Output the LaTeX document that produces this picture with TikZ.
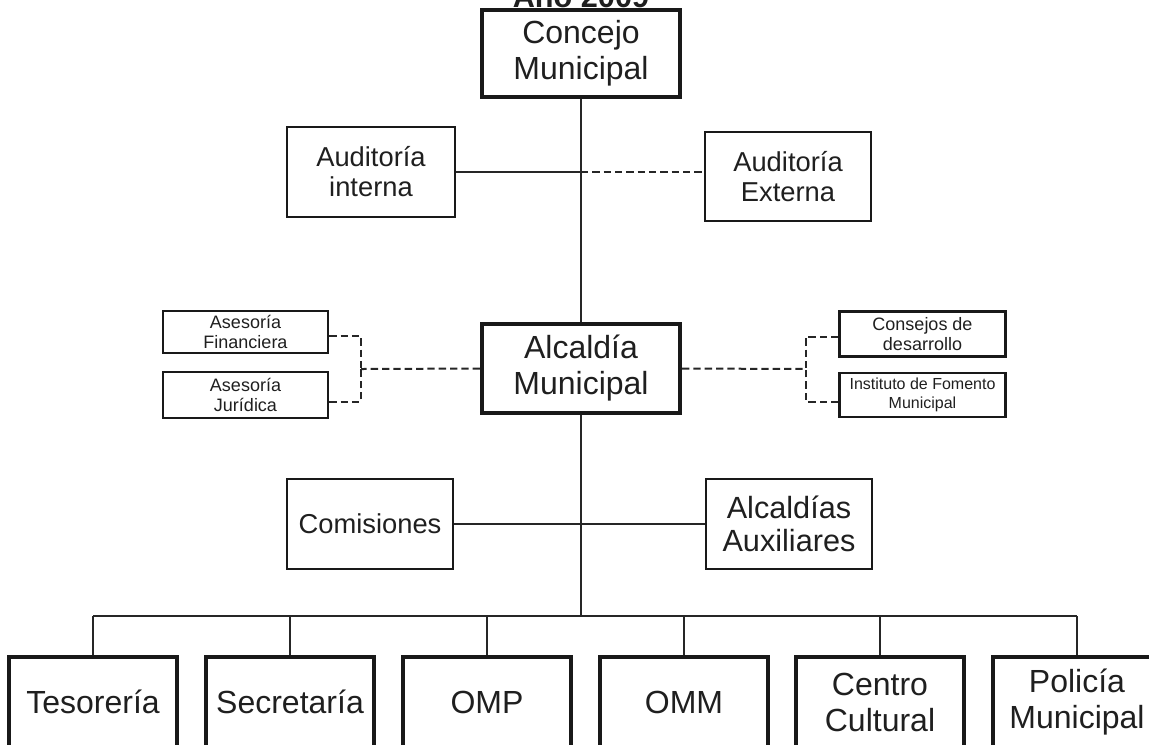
\documentclass[tikz,border=0pt]{standalone}
\usepackage{fontspec}
\setmainfont{Liberation Sans}
\usepackage{xcolor}
\usetikzlibrary{calc}

\begin{document}
\begin{tikzpicture}[x=0.75pt, y=-0.75pt,
    box/.style={draw=black!90, line width=1.8pt, align=center, inner sep=0pt, text=black!88},
    bigbox/.style={box, line width=3pt},
    link/.style={line width=1.5pt, black!85},
    dashlink/.style={link, dash pattern=on 5.5pt off 3pt},
    bigtext/.style={font=\fontsize{24}{27}\selectfont},
    auxtext/.style={font=\fontsize{23}{25}\selectfont},
    midtext/.style={font=\fontsize{20.5}{22.5}\selectfont},
    smalltext/.style={font=\fontsize{13.5}{14.5}\selectfont},
    tinytext/.style={font=\fontsize{12}{14.5}\selectfont}]
\useasboundingbox (0,0) rectangle (1149,744);
\clip (0,0) rectangle (1149,744);

\node[font=\bfseries\fontsize{23}{23}\selectfont, anchor=base, text=black!88] (title) at (581,7) {Año 2009};

\node[bigbox, bigtext, minimum width=148.5pt, minimum height=65.25pt] (cm) at (581,53.5) {Concejo\\Municipal};
\node[box, midtext, minimum width=126pt, minimum height=67.5pt] (ai) at (371,172) {Auditoría\\interna};
\node[box, midtext, minimum width=124.5pt, minimum height=66.75pt] (ae) at (788,176.5) {Auditoría\\Externa};

\node[bigbox, bigtext, minimum width=148.5pt, minimum height=66.75pt] (alc) at (581,368.5) {Alcaldía\\Municipal};
\node[box, smalltext, minimum width=123.75pt, minimum height=31.5pt] (af) at (245.5,332) {Asesoría\\Financiera};
\node[box, smalltext, minimum width=123.75pt, minimum height=34.5pt] (aj) at (245.5,395) {Asesoría\\Jurídica};
\node[box, smalltext, minimum width=124.5pt, minimum height=34pt] (cd) at (922.5,334) {Consejos de\\desarrollo};
\node[box, tinytext, minimum width=124.5pt, minimum height=33pt] (if) at (922.5,395) {Instituto de Fomento\\Municipal};

\node[box, midtext, minimum width=124.5pt, minimum height=67.5pt] (com) at (370,524) {Comisiones};
\node[box, auxtext, minimum width=124.5pt, minimum height=67.5pt] (aa) at (789,524) {Alcaldías\\Auxiliares};

\node[bigbox, bigtext, minimum width=126pt, minimum height=67.5pt] (tes) at (93,702) {Tesorería};
\node[bigbox, bigtext, minimum width=126pt, minimum height=67.5pt] (sec) at (290,702) {Secretaría};
\node[bigbox, bigtext, minimum width=126pt, minimum height=67.5pt] (omp) at (487,702) {OMP};
\node[bigbox, bigtext, minimum width=126pt, minimum height=67.5pt] (omm) at (684,702) {OMM};
\node[bigbox, bigtext, minimum width=126pt, minimum height=67.5pt] (cen) at (880,702) {Centro\\Cultural};
\node[bigbox, bigtext, minimum width=126pt, minimum height=67.5pt] (pol) at (1077,702) {Policía\\Municipal};

% main line
\coordinate (ja) at (581,172);
\coordinate (bus) at (581,616);
\draw[link] (cm.south) -- (alc.north);
\draw[link] (ai.east) -- (ja);
\draw[dashlink] (ja) -- (ae.west |- ja);
\draw[link] (alc.south) -- (bus);
\draw[link] (com.east) -- (aa.west);

% staff units
\coordinate (jl) at (361,369);
\coordinate (jr) at (806,369);
\draw[dashlink] (alc.west) -- (jl);
\draw[dashlink] ([yshift=-3pt]af.east) -| (jl);
\draw[dashlink] ([yshift=-5pt]aj.east) -| (jl);
\draw[dashlink] (alc.east) -- (jr);
\draw[dashlink] ([yshift=-2pt]cd.west) -| (jr);
\draw[dashlink] ([yshift=-5pt]if.west) -| (jr);

% offices
\draw[link] (tes.north |- bus) -- (pol.north |- bus);
\foreach \n in {tes,sec,omp,omm,cen,pol}
  \draw[link] (\n.north) -- (\n.north |- bus);
\end{tikzpicture}
\end{document}
